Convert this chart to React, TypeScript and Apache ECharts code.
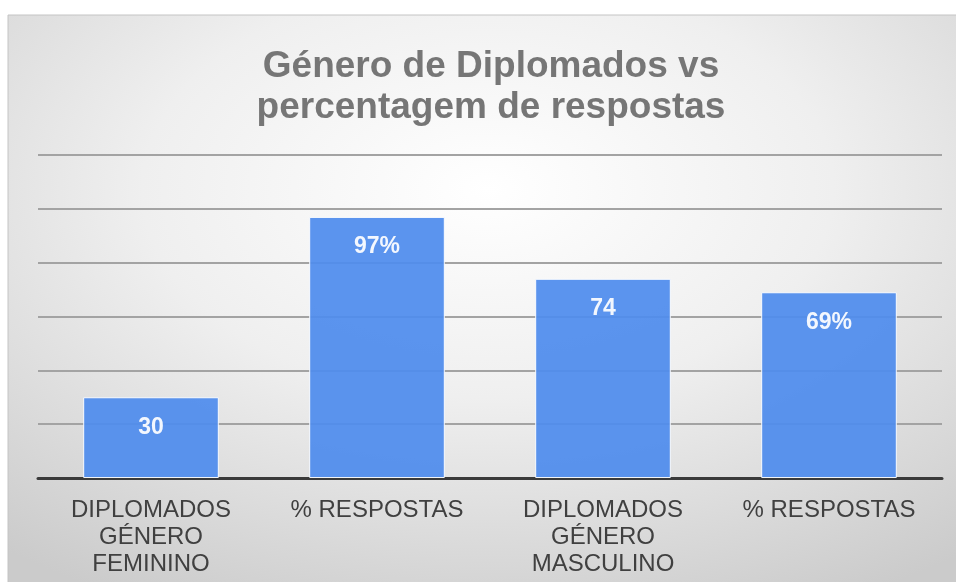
import React, { useEffect, useRef } from "react";
import * as echarts from "echarts";

const categories = [
  "DIPLOMADOS\nGÉNERO\nFEMININO",
  "% RESPOSTAS",
  "DIPLOMADOS\nGÉNERO\nMASCULINO",
  "% RESPOSTAS",
];
const values = [30, 97, 74, 69];
const valueLabels = ["30", "97%", "74", "69%"];
const titleText = "Género de Diplomados vs\npercentagem de respostas";
const yMin = 0;
const yMax = 120;
const yInterval = 20;

export default function App() {
  const ref = useRef<HTMLDivElement>(null);
  useEffect(() => {
    if (!ref.current) return;
    const chart = echarts.init(ref.current, null, { renderer: "svg" });
    chart.setOption({
      animation: false,
      graphic: [
        {
          type: "rect",
          z: -10,
          silent: true,
          shape: { x: 8, y: 15, width: 960, height: 580 },
          style: {
            fill: new echarts.graphic.RadialGradient(0.5, 0.3, 0.8, [
              { offset: 0, color: "#ffffff" },
              { offset: 0.45, color: "#efefef" },
              { offset: 1, color: "#cbcbcb" },
            ]),
            stroke: "#c4c4c4",
            lineWidth: 1,
          },
        },
      ],
      title: {
        text: titleText,
        left: 486,
        textAlign: "center",
        top: 39,
        textStyle: {
          fontFamily: "Liberation Sans",
          fontSize: 37,
          fontWeight: "bold",
          color: "#767676",
          lineHeight: 41,
        },
      },
      grid: { left: 38, right: 14, top: 155, bottom: 104, containLabel: false },
      xAxis: {
        type: "category",
        data: categories,
        axisTick: { show: false },
        axisLine: { lineStyle: { color: "#3a3a3a", width: 3 } },
        axisLabel: {
          interval: 0,
          margin: 17,
          fontFamily: "Liberation Sans",
          fontSize: 24,
          lineHeight: 27,
          color: "#404040",
        },
      },
      yAxis: {
        type: "value",
        min: yMin,
        max: yMax,
        interval: yInterval,
        axisLabel: { show: false },
        axisLine: { show: false },
        axisTick: { show: false },
        splitLine: { lineStyle: { color: "#a3a3a3", width: 2 } },
      },
      series: [
        {
          type: "bar",
          data: values,
          barWidth: "60%",
          itemStyle: {
            color: "#4f8ced",
            opacity: 0.93,
            borderColor: "#ffffff",
            borderWidth: 1,
          },
          label: {
            show: true,
            position: "insideTop",
            distance: 17,
            fontFamily: "Liberation Sans",
            fontSize: 23,
            fontWeight: "bold",
            color: "#ffffff",
            formatter: (p: any) => valueLabels[p.dataIndex],
          },
        },
      ],
    });
    return () => chart.dispose();
  }, []);
  return (
    <div
      ref={ref}
      style={{ position: "fixed", left: 0, top: 0, width: 956, height: 582 }}
    />
  );
}
